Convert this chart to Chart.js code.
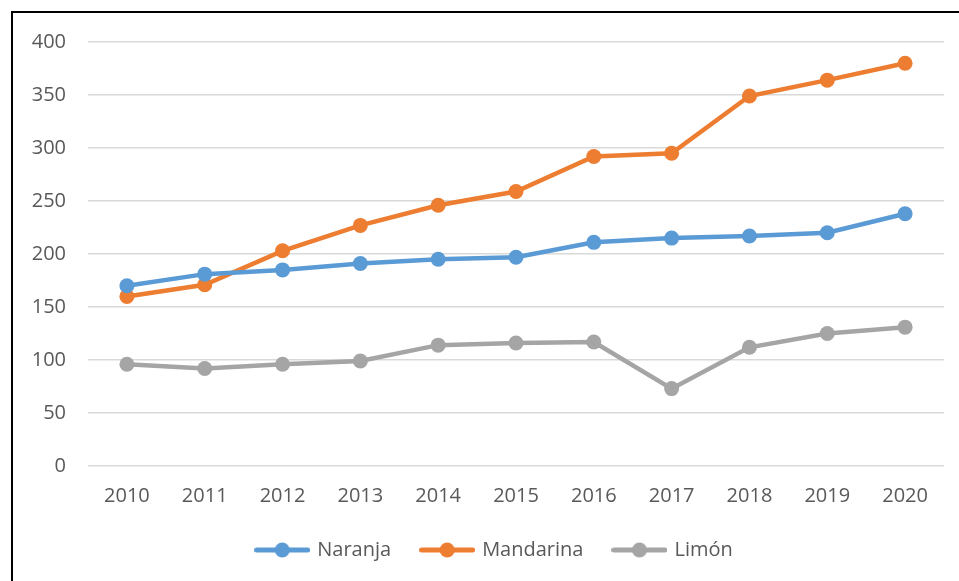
<!DOCTYPE html>
<html><head><meta charset="utf-8">
<script src="https://cdn.jsdelivr.net/npm/chart.js@4.4.0/dist/chart.umd.min.js"></script>
<style>
html,body{margin:0;padding:0;background:#fff;}
#wrap{position:relative;width:959px;height:581px;overflow:hidden;}
#frame{position:absolute;left:11px;top:11px;width:1200px;height:1200px;border:2px solid #000;pointer-events:none;}
canvas{position:absolute;left:0;top:0;}
</style></head><body>
<div id="wrap"><canvas id="c" width="959" height="581"></canvas><div id="frame"></div></div>
<script>
const categories = ['2010','2011','2012','2013','2014','2015','2016','2017','2018','2019','2020'];
const naranja   = [170, 181, 185, 191, 195, 197, 211, 215, 217, 220, 238];
const mandarina = [160, 171, 203, 227, 246, 259, 292, 295, 349, 364, 380];
const limon     = [96, 92, 96, 99, 114, 116, 117, 73, 112, 125, 131];
const seriesNames = ['Naranja','Mandarina','Limón'];
const colors = ['#5B9BD5','#ED7D31','#A5A5A5'];

function legendIcon(color){
  const cv = document.createElement('canvas');
  cv.width = 56; cv.height = 16;
  const g = cv.getContext('2d');
  g.strokeStyle = color; g.lineWidth = 5; g.lineCap = 'round';
  g.beginPath(); g.moveTo(2.5,8); g.lineTo(53.5,8); g.stroke();
  g.fillStyle = color; g.beginPath(); g.arc(28,8,7.5,0,Math.PI*2); g.fill();
  return cv;
}
const FONT = {family:"'Open Sans', sans-serif", size:20};
const datasets = [naranja, mandarina, limon].map((d,i)=>({
  label: seriesNames[i], data: d, borderColor: colors[i], backgroundColor: colors[i],
  borderWidth: 4.5, pointRadius: 7.5, pointBorderWidth: 0, pointBackgroundColor: colors[i],
  pointStyle: 'circle', tension: 0, fill: false
}));
const icons = colors.map(legendIcon);
const legendShift = {
  id: 'legendShift',
  afterLayout(chart){ if (chart.legend) { chart.legend.left += 26; } }
};
new Chart(document.getElementById('c'), {
  type: 'line',
  data: {labels: categories, datasets},
  plugins: [legendShift],
  options: {
    responsive: false, animation: false, devicePixelRatio: 1,
    layout: {padding: {left: 20, right: 15, top: 42, bottom: 11}},
    scales: {
      x: {
        offset: true,
        grid: {display: false, drawTicks: false},
        border: {display: false},
        ticks: {color: '#595959', font: FONT, padding: 18, maxRotation: 0},
        afterFit: s => { s.height = 43; }
      },
      y: {
        min: 0, max: 400,
        ticks: {stepSize: 50, color: '#595959', font: FONT, padding: 22},
        grid: {color: '#D9D9D9', lineWidth: 1.5, drawTicks: false},
        border: {display: false},
        afterFit: s => { s.width = 68; }
      }
    },
    plugins: {
      tooltip: {enabled: false},
      legend: {
        position: 'bottom',
        labels: {
          color: '#595959', font: FONT, usePointStyle: true, pointStyleWidth: 50, boxHeight: 16, padding: 31,
          generateLabels: chart => chart.data.datasets.map((ds,i)=>({
            text: ds.label, pointStyle: icons[i], fillStyle: colors[i], strokeStyle: colors[i],
            lineWidth: 0, fontColor: '#595959', datasetIndex: i, hidden: false
          }))
        }
      }
    }
  }
});
</script>
</body></html>
